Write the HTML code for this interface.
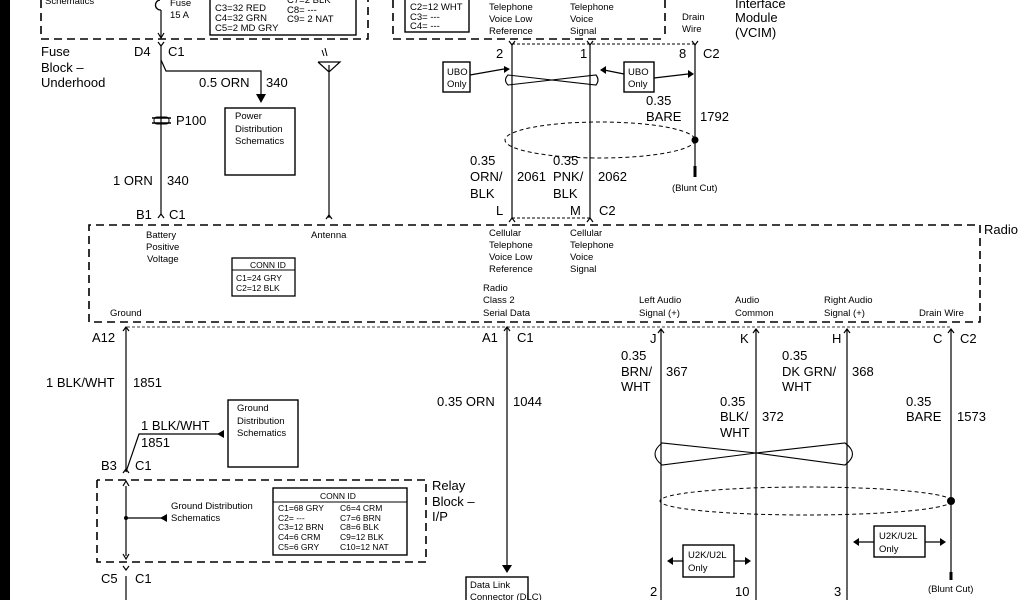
<!DOCTYPE html>
<html><head><meta charset="utf-8"><style>
html,body{margin:0;padding:0;background:#fff;}
svg{display:block;font-family:"Liberation Sans",Arial,sans-serif;}
.b{font-size:13px;}
.s{font-size:9.5px;}
.t{font-size:8.5px;}
</style></head><body>
<svg width="1024" height="600" viewBox="0 0 1024 600" xmlns="http://www.w3.org/2000/svg">
<rect x="0" y="0" width="10" height="600" fill="#000"/>
<g fill="none" stroke="#000">
<path d="M41 0 V39 H368 V0" stroke-width="1.6" stroke-dasharray="8,5"/>
<rect x="210" y="-2" width="146" height="37" stroke-width="1.4"/>
<path d="M393 0 V39 H665" stroke-width="1.6" stroke-dasharray="8,5"/>
<path d="M665 0 V39" stroke-width="1.6" stroke-dasharray="8,5"/>
<rect x="405" y="-2" width="64" height="34" stroke-width="1.4"/>
<path d="M161 10 A5 5 0 0 1 160 0" stroke-width="1.3"/>
<path d="M161 10 V37" stroke-width="1.2"/>
<path d="M158 33 L161 38 L164 33" stroke-width="1.2"/>
<path d="M158 42 L161 46 L164 42" stroke-width="1.2"/>
<path d="M161 46 V215" stroke-width="1.2"/>
<path d="M161 60 L166 71 H261 V98" stroke-width="1.2"/>
<rect x="225" y="108" width="70" height="67" stroke-width="1.4"/>
<path d="M152 118 H171 M152 123 H171" stroke-width="1.6"/>
<rect x="154" y="117" width="15" height="7" rx="3" stroke-width="1"/>
<path d="M158 218 L161 214 L164 218" stroke-width="1.2"/>
<path d="M329 65 V218 M318 62 H340 L329 72 L318 62" stroke-width="1.2"/>
<path d="M322 50 L324 56 M325 48 L327 56" stroke-width="1"/>
<path d="M326 219 L329 215 L332 219" stroke-width="1.2"/>
<path d="M89 322 V225 H980 V322 H89" stroke-width="1.6" stroke-dasharray="8,5"/>
<rect x="232" y="258" width="63" height="38" stroke-width="1.3"/>
<path d="M232 270 H295" stroke-width="1"/>
<path d="M512 44 H695" stroke-width="1" stroke-dasharray="3,2"/>
<path d="M512 44 V218 M590 44 V218 M695 44 V168" stroke-width="1.2"/>
<path d="M509 41 L512 45 L515 41 M587 41 L590 45 L593 41 M692 41 L695 45 L698 41" stroke-width="1.2"/>
<path d="M695 166 V177" stroke-width="3"/>
<path d="M512 218 H590" stroke-width="1" stroke-dasharray="3,2"/>
<path d="M509 222 L512 218 L515 222 M587 222 L590 218 L593 222" stroke-width="1.2"/>
<rect x="443" y="62" width="27" height="30" stroke-width="1.4"/>
<rect x="624" y="62" width="30" height="30" stroke-width="1.4"/>
<path d="M470 75 L504 69 M624 74 L604 70 M654 78 L688 74" stroke-width="1.2"/>
<path d="M508 75 Q503 80 508 85 L596 75 Q600 80 596 85 L508 75 Z" stroke-width="1.1"/>
<ellipse cx="600" cy="140" rx="95" ry="18" stroke-width="1" stroke-dasharray="4,3"/>
<path d="M127 327 H951" stroke-width="0.8" stroke-dasharray="3,2"/>
<path d="M126 327 V472 M126 486 V556 M126 576 V600" stroke-width="1.2"/>
<path d="M123 331 L126 327 L129 331" stroke-width="1.2"/>
<path d="M126 472 L139 434 H222" stroke-width="1.2"/>
<rect x="228" y="400" width="70" height="67" stroke-width="1.4"/>
<path d="M123 473 L126 469 L129 473" stroke-width="1.2"/>
<path d="M97 480 V562 H426 V480 H97" stroke-width="1.6" stroke-dasharray="8,5"/>
<path d="M123 486 L126 481 L129 486 M123 554 L126 559 L129 554" stroke-width="1.2"/>
<path d="M126 518 H165" stroke-width="1.2"/>
<rect x="273" y="488" width="134" height="67" stroke-width="1.4"/>
<path d="M273 502 H407" stroke-width="1"/>
<path d="M123 566 L126 570 L129 566" stroke-width="1.2"/>
<path d="M507 327 V570" stroke-width="1.2"/>
<path d="M504 331 L507 327 L510 331" stroke-width="1.2"/>
<rect x="466" y="577" width="62" height="30" stroke-width="1.4"/>
<path d="M661 329 V600 M756 329 V600 M847 329 V600 M951 329 V572" stroke-width="1.2"/>
<path d="M951 572 V580" stroke-width="3"/>
<path d="M658 333 L661 329 L664 333 M753 333 L756 329 L759 333 M844 333 L847 329 L850 333 M948 333 L951 329 L954 333" stroke-width="1.2"/>
<path d="M662 443 Q648 454 662 465 L756 453 L845 443 Q860 454 845 465 L756 453 Z" stroke-width="1.1"/>
<ellipse cx="806" cy="501" rx="146" ry="14" stroke-width="1" stroke-dasharray="4,3"/>
<rect x="683" y="545" width="51" height="32" stroke-width="1.4"/>
<rect x="874" y="526" width="51" height="31" stroke-width="1.4"/>
<path d="M683 561 H670 M734 561 H748 M874 542 H856 M925 542 H943" stroke-width="1.2"/>
</g>
<g fill="#000">
<path d="M256 94 L261 103 L266 94 Z"/>
<path d="M504 66 L510 69 L504 73 Z"/>
<path d="M600 70 L606 66 L606 74 Z"/>
<path d="M688 70 L694 74 L688 78 Z"/>
<circle cx="695" cy="140" r="3.5"/>
<path d="M217 434 L224 430 L224 438 Z"/>
<circle cx="126" cy="518" r="2"/>
<path d="M160 518 L167 514 L167 522 Z"/>
<path d="M502 565 L507 573 L512 565 Z"/>
<circle cx="951" cy="501" r="4"/>
<path d="M667 561 L673 557 L673 565 Z M751 561 L745 557 L745 565 Z M853 542 L859 538 L859 546 Z M946 542 L940 538 L940 546 Z"/>
</g>
<g class="s">
<text x="45" y="4">Schematics</text>
<text x="170" y="6">Fuse</text><text x="170" y="18">15 A</text>
<text x="287" y="3">C7=2 BLK</text>
<text x="215" y="11">C3=32 RED</text><text x="287" y="13">C8= ---</text>
<text x="215" y="21">C4=32 GRN</text><text x="287" y="22">C9= 2 NAT</text>
<text x="215" y="31">C5=2 MD GRY</text>
<text x="410" y="10">C2=12 WHT</text><text x="410" y="20">C3= ---</text><text x="410" y="29">C4= ---</text>
<text x="489" y="10">Telephone</text><text x="489" y="22">Voice Low</text><text x="489" y="34">Reference</text>
<text x="570" y="10">Telephone</text><text x="570" y="22">Voice</text><text x="570" y="34">Signal</text>
<text x="682" y="20">Drain</text><text x="682" y="32">Wire</text>
<text x="235" y="119">Power</text><text x="235" y="132">Distribution</text><text x="235" y="144">Schematics</text>
<text x="447" y="75">UBO</text><text x="447" y="87">Only</text>
<text x="628" y="75">UBO</text><text x="628" y="87">Only</text>
<text x="146" y="238">Battery</text><text x="146" y="250">Positive</text><text x="147" y="262">Voltage</text>
<text x="311" y="238">Antenna</text>
<text x="489" y="236">Cellular</text><text x="489" y="248">Telephone</text><text x="489" y="260">Voice Low</text><text x="489" y="272">Reference</text>
<text x="570" y="236">Cellular</text><text x="570" y="248">Telephone</text><text x="570" y="260">Voice</text><text x="570" y="272">Signal</text>
<text x="483" y="291">Radio</text><text x="483" y="303">Class 2</text><text x="483" y="316">Serial Data</text>
<text x="639" y="303">Left Audio</text><text x="639" y="316">Signal (+)</text>
<text x="735" y="303">Audio</text><text x="735" y="316">Common</text>
<text x="824" y="303">Right Audio</text><text x="824" y="316">Signal (+)</text>
<text x="919" y="316">Drain Wire</text>
<text x="110" y="316">Ground</text>
<text x="237" y="411">Ground</text><text x="237" y="424">Distribution</text><text x="237" y="436">Schematics</text>
<text x="171" y="509">Ground Distribution</text><text x="171" y="521">Schematics</text>
<text x="470" y="588">Data Link</text><text x="470" y="600">Connector (DLC)</text>
<text x="688" y="558">U2K/U2L</text><text x="688" y="571">Only</text>
<text x="879" y="539">U2K/U2L</text><text x="879" y="552">Only</text>
<text x="672" y="191">(Blunt Cut)</text>
<text x="928" y="592">(Blunt Cut)</text>
</g>
<g class="t">
<text x="250" y="268">CONN ID</text>
<text x="236" y="281">C1=24 GRY</text><text x="236" y="291">C2=12 BLK</text>
<text x="320" y="499">CONN ID</text>
<text x="278" y="511">C1=68 GRY</text><text x="340" y="511">C6=4 CRM</text>
<text x="278" y="521">C2= ---</text><text x="340" y="521">C7=6 BRN</text>
<text x="278" y="530">C3=12 BRN</text><text x="340" y="530">C8=6 BLK</text>
<text x="278" y="540">C4=6 CRM</text><text x="340" y="540">C9=12 BLK</text>
<text x="278" y="550">C5=6 GRY</text><text x="340" y="550">C10=12 NAT</text>
</g>
<g class="b">
<text x="735" y="8">Interface</text><text x="735" y="22">Module</text><text x="735" y="37">(VCIM)</text>
<text x="41" y="56">Fuse</text><text x="41" y="72">Block –</text><text x="41" y="87">Underhood</text>
<text x="134" y="56">D4</text><text x="168" y="56">C1</text>
<text x="199" y="87">0.5 ORN</text><text x="266" y="87">340</text>
<text x="176" y="125">P100</text>
<text x="113" y="185">1 ORN</text><text x="167" y="185">340</text>
<text x="136" y="219">B1</text><text x="169" y="219">C1</text>
<text x="496" y="58">2</text><text x="580" y="58">1</text><text x="679" y="58">8</text><text x="703" y="58">C2</text>
<text x="646" y="105">0.35</text><text x="646" y="121">BARE</text><text x="700" y="121">1792</text>
<text x="470" y="165">0.35</text><text x="470" y="181">ORN/</text><text x="470" y="198">BLK</text><text x="517" y="181">2061</text>
<text x="553" y="165">0.35</text><text x="553" y="181">PNK/</text><text x="553" y="198">BLK</text><text x="598" y="181">2062</text>
<text x="496" y="215">L</text><text x="570" y="215">M</text><text x="599" y="215">C2</text>
<text x="984" y="234">Radio</text>
<text x="92" y="342">A12</text>
<text x="46" y="387">1 BLK/WHT</text><text x="133" y="387">1851</text>
<text x="141" y="430">1 BLK/WHT</text><text x="141" y="447">1851</text>
<text x="101" y="470">B3</text><text x="135" y="470">C1</text>
<text x="432" y="490">Relay</text><text x="432" y="506">Block –</text><text x="432" y="521">I/P</text>
<text x="101" y="583">C5</text><text x="135" y="583">C1</text>
<text x="482" y="342">A1</text><text x="517" y="342">C1</text>
<text x="437" y="406">0.35 ORN</text><text x="513" y="406">1044</text>
<text x="650" y="343">J</text><text x="740" y="343">K</text><text x="832" y="343">H</text><text x="933" y="343">C</text><text x="960" y="343">C2</text>
<text x="621" y="360">0.35</text><text x="621" y="376">BRN/</text><text x="621" y="391">WHT</text><text x="666" y="376">367</text>
<text x="720" y="406">0.35</text><text x="720" y="421">BLK/</text><text x="720" y="437">WHT</text><text x="762" y="421">372</text>
<text x="782" y="360">0.35</text><text x="782" y="376">DK GRN/</text><text x="782" y="391">WHT</text><text x="852" y="376">368</text>
<text x="906" y="406">0.35</text><text x="906" y="421">BARE</text><text x="957" y="421">1573</text>
<text x="650" y="596">2</text><text x="735" y="596">10</text><text x="834" y="596">3</text>
</g>
</svg>
</body></html>
